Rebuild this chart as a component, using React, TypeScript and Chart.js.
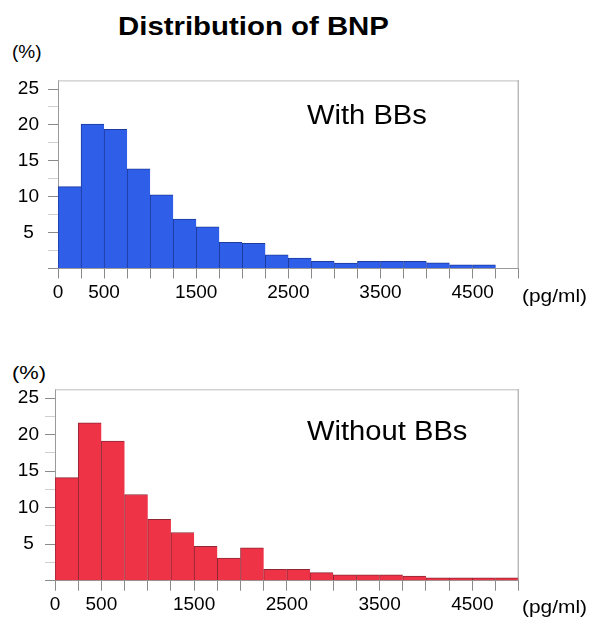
import React, { useEffect, useRef } from "react";
import { Chart, registerables } from "chart.js";

Chart.register(...registerables);

// Bin edges in pg/ml (20 bins of 250)
const binEdges = [0, 250, 500, 750, 1000, 1250, 1500, 1750, 2000, 2250, 2500, 2750, 3000, 3250, 3500, 3750, 4000, 4250, 4500, 4750, 5000];
// Percent of patients per bin
const withBBs = [11.4, 20.1, 19.4, 13.9, 10.25, 6.9, 5.8, 3.65, 3.5, 1.9, 1.45, 1.0, 0.75, 1.0, 1.0, 1.0, 0.8, 0.5, 0.5, 0];
const withoutBBs = [14.1, 21.6, 19.1, 11.8, 8.4, 6.6, 4.7, 3.1, 4.5, 1.55, 1.55, 1.1, 0.8, 0.8, 0.8, 0.64, 0.4, 0.4, 0.4, 0.4];
const yTickLabels = [5, 10, 15, 20, 25];
const xTickLabels = [0, 500, 1500, 2500, 3500, 4500];

const FONT = "'Liberation Sans', Arial, Helvetica, sans-serif";

const framePlugin = {
  id: "frame",
  afterDraw(chart: any) {
    const { ctx, chartArea } = chart;
    ctx.save();
    ctx.lineWidth = 1;
    ctx.strokeStyle = "#bdbdbd";
    ctx.beginPath();
    ctx.moveTo(chartArea.left, chartArea.top + 0.5);
    ctx.lineTo(chartArea.right, chartArea.top + 0.5);
    ctx.stroke();
    ctx.strokeStyle = "#9a9a9a";
    ctx.beginPath();
    ctx.moveTo(chartArea.right - 0.5, chartArea.top);
    ctx.lineTo(chartArea.right - 0.5, chartArea.bottom);
    ctx.stroke();
    ctx.restore();
  },
};

type PanelProps = {
  values: number[];
  fill: string;
  edge: string;
  top: number;
  height: number;
  yWidth: number;
  yPad: number;
  xHeight: number;
  pad: { top: number; right: number; bottom: number; left: number };
};

function Panel(p: PanelProps) {
  const ref = useRef<HTMLCanvasElement | null>(null);
  useEffect(() => {
    if (!ref.current) return;
    const data = p.values.map((v, i) => ({ x: (binEdges[i] + binEdges[i + 1]) / 2, y: v }));
    const chart = new Chart(ref.current, {
      type: "bar",
      data: {
        datasets: [
          {
            data: data as any,
            backgroundColor: p.fill,
            borderColor: p.edge,
            borderWidth: { top: 1, left: 1, right: 0, bottom: 0 } as any,
            borderSkipped: false as any,
            barPercentage: 1,
            categoryPercentage: 1,
          },
        ],
      },
      options: {
        animation: false,
        responsive: false,
        devicePixelRatio: 1,
        layout: { padding: p.pad },
        plugins: { legend: { display: false }, tooltip: { enabled: false } },
        scales: {
          x: {
            type: "linear",
            min: binEdges[0],
            max: binEdges[binEdges.length - 1],
            offset: false,
            afterFit: (s: any) => {
              s.height = p.xHeight;
            },
            border: { display: true, color: "#9a9a9a", width: 1 },
            grid: {
              drawOnChartArea: false,
              drawTicks: true,
              tickLength: 10,
              tickColor: "#8a8a8a",
              offset: false,
            },
            ticks: {
              stepSize: 250,
              autoSkip: false,
              maxRotation: 0,
              minRotation: 0,
              padding: 3,
              color: "#000",
              font: { family: FONT, size: 19 },
              callback: (v: any) => (xTickLabels.includes(Number(v)) ? String(v) : ""),
            },
          },
          y: {
            type: "linear",
            min: 0,
            max: 26.2,
            afterFit: (s: any) => {
              s.width = p.yWidth;
            },
            border: { display: true, color: "#9a9a9a", width: 1 },
            grid: {
              drawOnChartArea: false,
              drawTicks: true,
              tickLength: 10,
              tickColor: (c: any) =>
                c.tick && Math.abs(c.tick.value % 5) < 0.001 ? "#8a8a8a" : "#cfcfcf",
            },
            ticks: {
              stepSize: 2.5,
              includeBounds: false,
              autoSkip: false,
              crossAlign: "center",
              padding: p.yPad,
              color: "#000",
              font: { family: FONT, size: 19 },
              callback: (v: any) => (yTickLabels.includes(Number(v)) ? String(v) : ""),
            },
          },
        },
      },
      plugins: [framePlugin],
    });
    return () => chart.destroy();
  }, []);
  return (
    <canvas
      ref={ref}
      width={592}
      height={p.height}
      style={{ position: "absolute", left: 0, top: p.top, width: 592, height: p.height }}
    />
  );
}

const txt = (extra: React.CSSProperties): React.CSSProperties => ({
  position: "absolute",
  fontFamily: FONT,
  color: "#000",
  whiteSpace: "nowrap",
  transformOrigin: "left top",
  margin: 0,
  ...extra,
});

export default function App() {
  return (
    <div
      style={{
        position: "absolute",
        left: 0,
        top: 0,
        width: 592,
        height: 629,
        background: "#fff",
        overflow: "hidden",
      }}
    >
      <div
        style={txt({
          left: 118,
          top: 10.5,
          fontSize: 26,
          lineHeight: "30px",
          fontWeight: "bold",
          transform: "scaleX(1.13)",
        })}
      >
        Distribution of BNP
      </div>

      <div style={txt({ left: 12, top: 40.5, fontSize: 19, lineHeight: "22px" })}>(%)</div>
      <Panel
        values={withBBs}
        fill="#2f5fe8"
        edge="#1d3a9c"
        top={60}
        height={250}
        yWidth={58}
        yPad={9}
        xHeight={40}
        pad={{ top: 16, right: 73.3, bottom: 1.5, left: 0 }}
      />
      <div
        style={txt({ left: 306.7, top: 98.5, fontSize: 27, lineHeight: "32px", transform: "scaleX(1.08)" })}
      >
        With BBs
      </div>
      <div style={txt({ left: 522, top: 285, fontSize: 19, lineHeight: "22px", transform: "scaleX(1.1)" })}>
        (pg/ml)
      </div>

      <div style={txt({ left: 12, top: 361.5, fontSize: 19, lineHeight: "22px", transform: "scaleX(1.15)" })}>(%)</div>
      <Panel
        values={withoutBBs}
        fill="#ee3347"
        edge="#8e2634"
        top={370}
        height={250}
        yWidth={55}
        yPad={6}
        xHeight={38}
        pad={{ top: 19.3, right: 73.3, bottom: 1.3, left: 0 }}
      />
      <div
        style={txt({ left: 306.7, top: 415, fontSize: 27, lineHeight: "32px", transform: "scaleX(1.08)" })}
      >
        Without BBs
      </div>
      <div style={txt({ left: 522, top: 596, fontSize: 19, lineHeight: "22px", transform: "scaleX(1.1)" })}>
        (pg/ml)
      </div>
    </div>
  );
}
